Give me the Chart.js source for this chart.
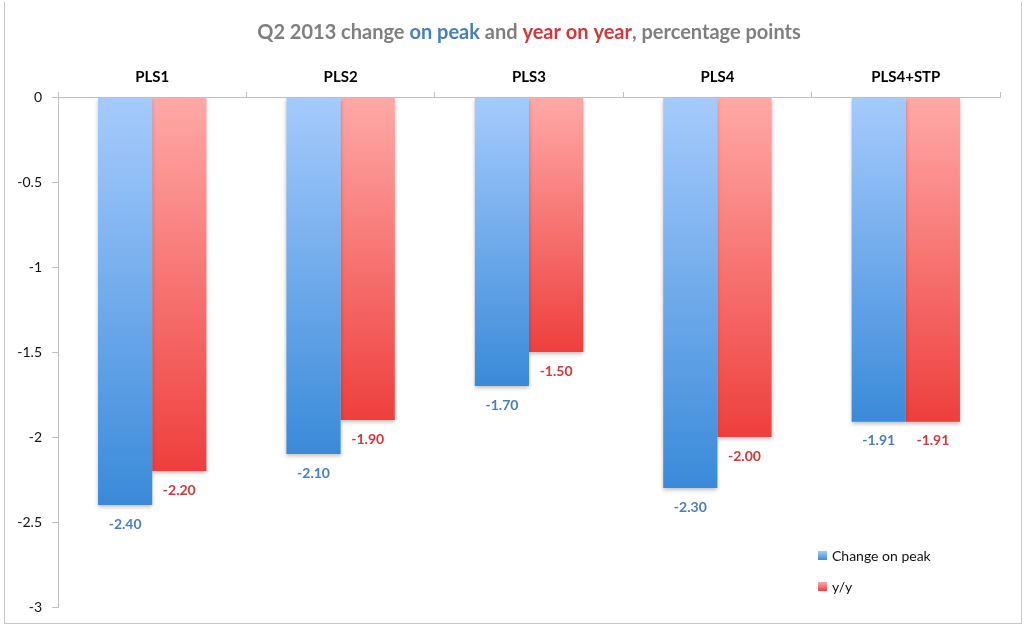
<!DOCTYPE html>
<html>
<head>
<meta charset="utf-8">
<script src="https://cdn.jsdelivr.net/npm/chart.js@4"></script>
<style>
  body { margin: 0; background: #fff; font-family: Lato, "Open Sans", sans-serif; }
  #wrap { position: relative; width: 1027px; height: 630px; }
  #frame { position: absolute; left: 4px; top: 2px; width: 1016px; height: 621px; border: 1px solid #c8c8c8; border-top: none; pointer-events: none; }
  .legend { position: absolute; left: 818px; font-size: 14px; color: #111; }
  .legend span { display: inline-block; width: 9px; height: 9px; margin-right: 5px; vertical-align: 1px; }
</style>
</head>
<body>
<div id="wrap">
  <canvas id="chart" width="1027" height="630"></canvas>
  <div id="frame"></div>
  <div class="legend" style="top:547px"><span style="background:linear-gradient(#a6cbfd,#3a8ad9)"></span>Change on peak</div>
  <div class="legend" style="top:578px"><span style="background:linear-gradient(#ffa9a7,#ee3f3d)"></span>y/y</div>
</div>
<script>
const categories = ["PLS1", "PLS2", "PLS3", "PLS4", "PLS4+STP"];
const changeOnPeak = [-2.40, -2.10, -1.70, -2.30, -1.91];
const yearOnYear = [-2.20, -1.90, -1.50, -2.00, -1.91];
const yTicks = [0, -0.5, -1, -1.5, -2, -2.5, -3];

const blueLabel = "#4a7ebb";
const redLabel = "#d0383a";

function barGradient(top, bottom) {
  return function (ctx) {
    const chart = ctx.chart;
    if (!chart.chartArea || ctx.type !== "data") return bottom;
    const y = chart.scales.y;
    const y0 = y.getPixelForValue(0);
    const y1 = y.getPixelForValue(ctx.raw);
    const g = chart.ctx.createLinearGradient(0, y0, 0, y1);
    g.addColorStop(0, top);
    g.addColorStop(1, bottom);
    return g;
  };
}

// title with coloured words
const titlePlugin = {
  id: "colTitle",
  afterDraw(chart) {
    const parts = [
      ["Q2 2013 change ", "#7f7f7f"],
      ["on peak", blueLabel],
      [" and ", "#7f7f7f"],
      ["year on year", redLabel],
      [", percentage points", "#7f7f7f"]
    ];
    const c = chart.ctx;
    c.save();
    c.font = "bold 20px Lato, 'Open Sans', sans-serif";
    c.textBaseline = "middle";
    const total = parts.reduce((s, p) => s + c.measureText(p[0]).width, 0);
    const area = chart.chartArea;
    let x = (area.left + area.right) / 2 - total / 2;
    parts.forEach(p => {
      c.fillStyle = p[1];
      c.fillText(p[0], x, 33);
      x += c.measureText(p[0]).width;
    });
    c.restore();
  }
};

const valueLabels = {
  id: "valueLabels",
  afterDatasetsDraw(chart) {
    const c = chart.ctx;
    c.save();
    c.font = "bold 14px Lato, 'Open Sans', sans-serif";
    c.textAlign = "center";
    c.textBaseline = "middle";
    chart.data.datasets.forEach((ds, i) => {
      c.fillStyle = i === 0 ? blueLabel : redLabel;
      chart.getDatasetMeta(i).data.forEach((bar, j) => {
        c.fillText(ds.data[j].toFixed(2), bar.x, bar.y + 19);
      });
    });
    c.restore();
  }
};

const shadow = {
  id: "shadow",
  beforeDatasetsDraw(chart) {
    const c = chart.ctx;
    c.save();
    c.shadowColor = "rgba(0,0,0,0.25)";
    c.shadowBlur = 4;
    c.shadowOffsetY = 2;
  },
  afterDatasetsDraw(chart) {
    chart.ctx.restore();
  }
};

new Chart(document.getElementById("chart"), {
  type: "bar",
  data: {
    labels: categories,
    datasets: [
      { label: "Change on peak", data: changeOnPeak, backgroundColor: barGradient("#a6cbfd", "#3a8ad9") },
      { label: "y/y", data: yearOnYear, backgroundColor: barGradient("#ffa9a7", "#ee3f3d") }
    ]
  },
  options: {
    responsive: false,
    animation: false,
    categoryPercentage: 0.575,
    barPercentage: 1,
    layout: { padding: { left: 0, top: 55, right: 27, bottom: 23 } },
    plugins: { legend: { display: false }, tooltip: { enabled: false } },
    scales: {
      x: {
        position: "top",
        afterFit(scale) { scale.height = 42; },
        border: { color: "#bfbfbf" },
        grid: { offset: true, drawOnChartArea: false, tickLength: 5, color: "#bfbfbf" },
        ticks: { color: "#000", font: { family: "Lato, 'Open Sans', sans-serif", size: 15, weight: "bold" }, padding: 6 }
      },
      y: {
        min: -3,
        max: 0,
        afterFit(scale) { scale.width = 58; },
        afterBuildTicks(scale) { scale.ticks = yTicks.map(v => ({ value: v })); },
        border: { color: "#bfbfbf" },
        grid: { drawOnChartArea: false, tickLength: 6, color: "#bfbfbf" },
        ticks: {
          color: "#111",
          font: { family: "Lato, 'Open Sans', sans-serif", size: 14 },
          padding: 10,
          callback: v => String(v)
        }
      }
    }
  },
  plugins: [shadow, valueLabels, titlePlugin]
});
</script>
</body>
</html>
